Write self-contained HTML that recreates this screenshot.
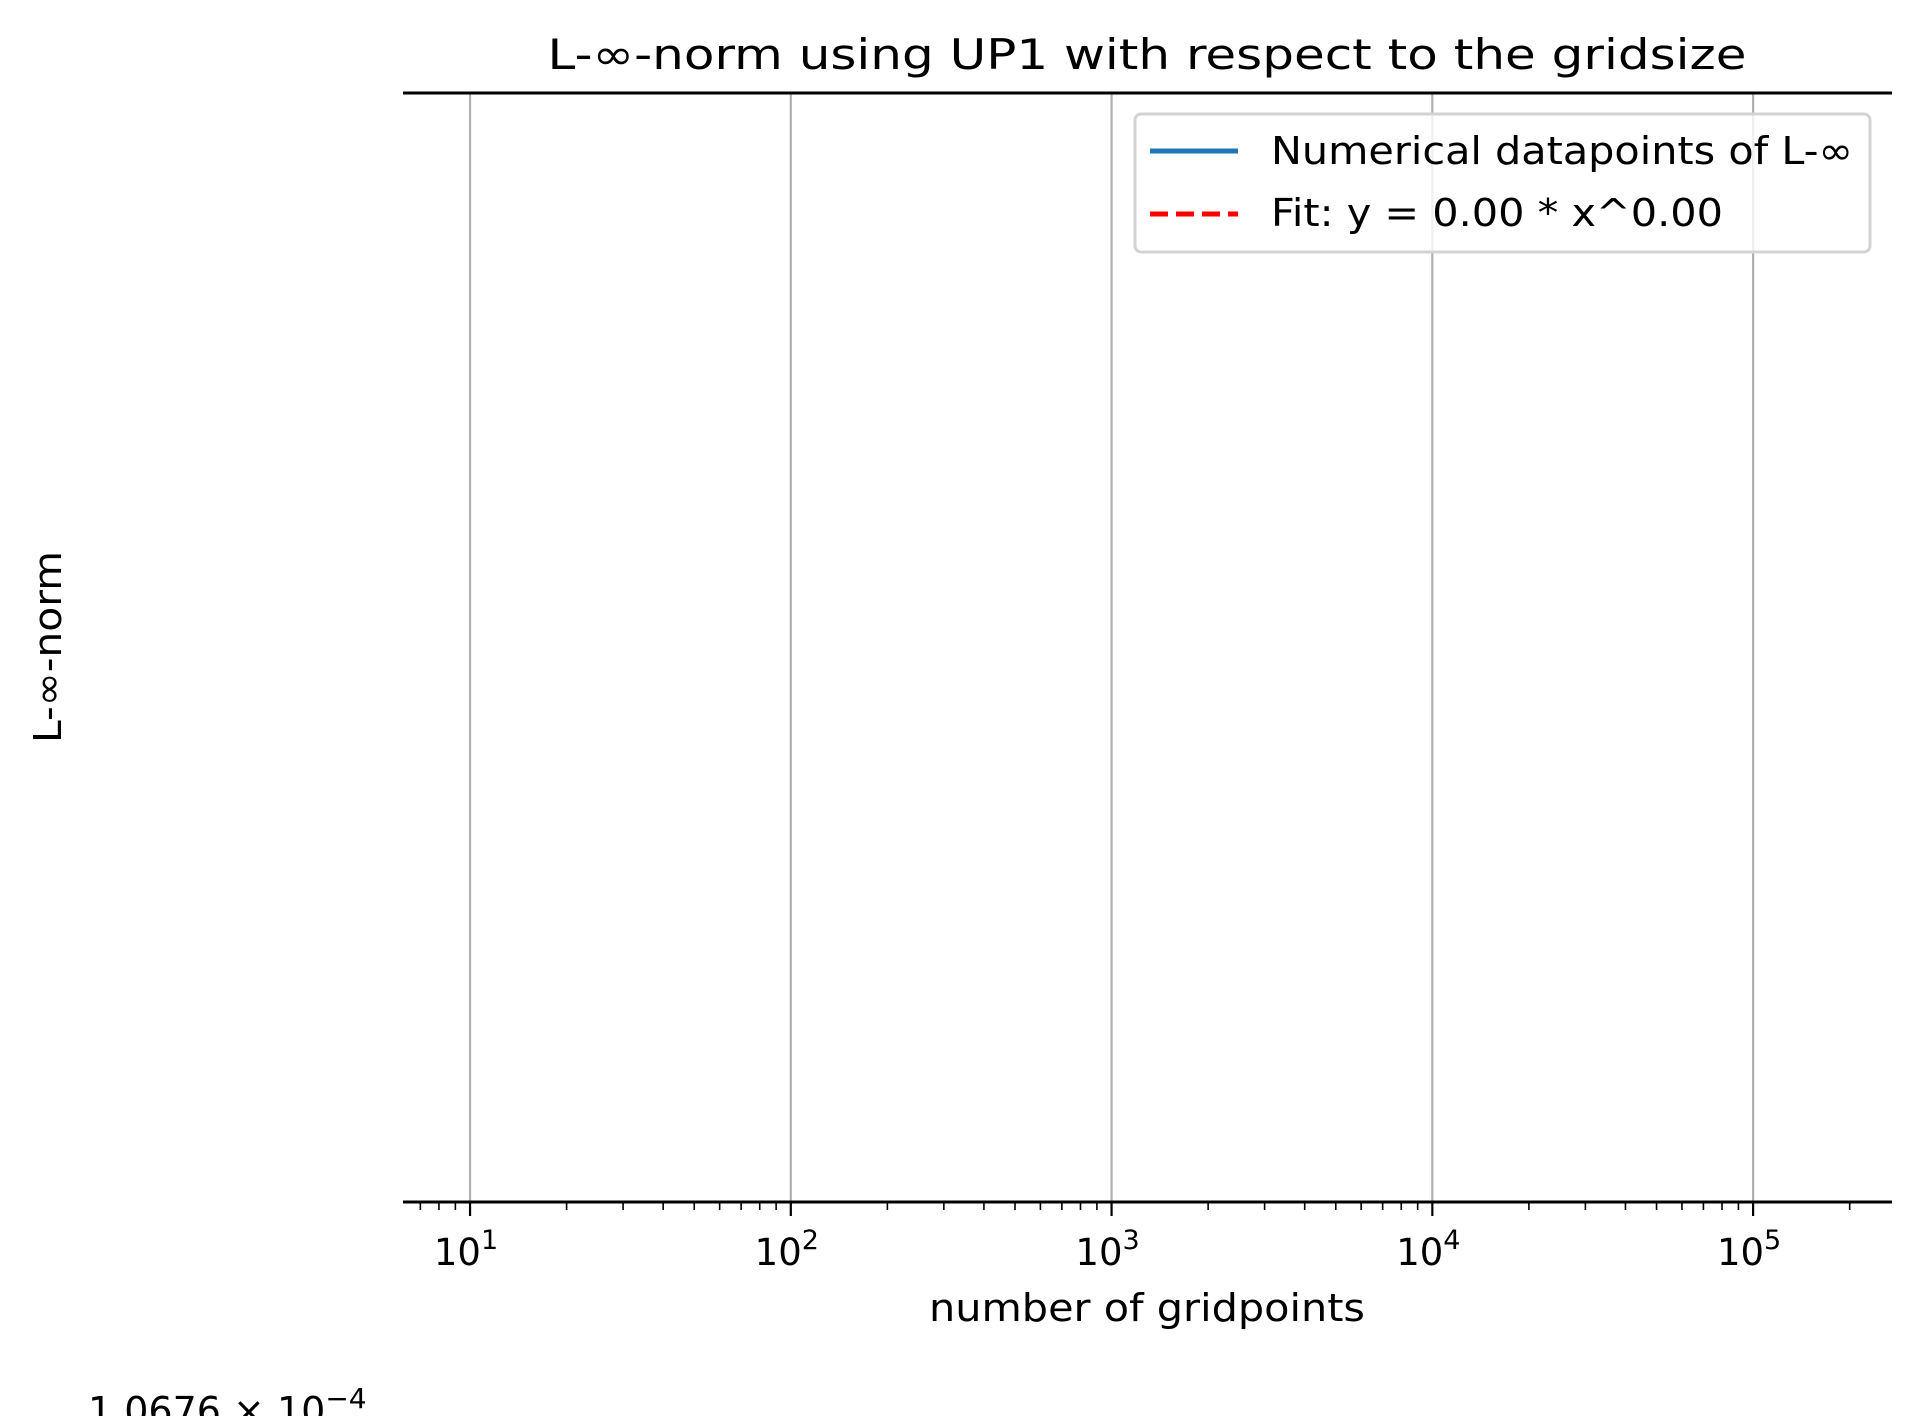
<!DOCTYPE html>
<html><head><meta charset="utf-8"><style>
html,body{margin:0;padding:0;background:#fff;}
svg{display:block;font-family:"DejaVu Sans","Liberation Sans",sans-serif;}
</style></head><body>
<svg id="chart" width="1920" height="1416" viewBox="0 0 1920 1416">
<rect width="1920" height="1416" fill="#fff"/>
<g id="grid"></g>
<g id="ticks"></g>
<line x1="403" y1="93" x2="1892" y2="93" stroke="#000" stroke-width="3"/>
<line x1="403" y1="1202" x2="1892" y2="1202" stroke="#000" stroke-width="3"/>
<text x="1147" y="69" font-size="42" text-anchor="middle" textLength="1199" lengthAdjust="spacingAndGlyphs">L-∞-norm using UP1 with respect to the gridsize</text>
<text x="1147" y="1321" font-size="38" text-anchor="middle" textLength="436" lengthAdjust="spacingAndGlyphs">number of gridpoints</text>
<text transform="translate(61,647) rotate(-90)" font-size="38" text-anchor="middle" textLength="192" lengthAdjust="spacingAndGlyphs">L-∞-norm</text>
<text x="88" y="1424" font-size="38">1.0676 × 10<tspan dy="-16" font-size="28">−4</tspan></text>
<g>
<rect x="1135" y="114" width="735" height="138" rx="6" fill="#fff" fill-opacity="0.8" stroke="#d3d3d3" stroke-width="3"/>
<line x1="1150" y1="151" x2="1238" y2="151" stroke="#1f77b4" stroke-width="5"/>
<text x="1271" y="164" font-size="38" textLength="582" lengthAdjust="spacingAndGlyphs">Numerical datapoints of L-∞</text>
<line x1="1150" y1="214" x2="1238" y2="214" stroke="#ff0000" stroke-width="5" stroke-dasharray="18,8"/>
<text x="1271" y="226" font-size="38" textLength="452" lengthAdjust="spacingAndGlyphs">Fit: y = 0.00 * x^0.00</text>
</g>
</svg>
<script>
const xDecades = [1, 2, 3, 4, 5];
const xTickLabels = ["1", "2", "3", "4", "5"];
const xDomain = [0.791, 5.433];
const NS = "http://www.w3.org/2000/svg";
const L = 403, R = 1892, T = 93, B = 1202;
function xScale(lg){ return L + (lg - xDomain[0]) / (xDomain[1] - xDomain[0]) * (R - L); }
const grid = document.getElementById('grid');
const ticks = document.getElementById('ticks');
function mk(tag, attrs, parent){ const e = document.createElementNS(NS, tag); for (const k in attrs) e.setAttribute(k, attrs[k]); parent.appendChild(e); return e; }
xDecades.forEach((d, i) => {
  const x = xScale(d);
  const g = mk('line', {x1:x, y1:T, x2:x, y2:B, stroke:'#b0b0b0', 'stroke-width':2.2}, grid);
  
  
  const t = mk('line', {x1:x, y1:B, x2:x, y2:B+14, stroke:'#000', 'stroke-width':2.2}, ticks);
  
  
  const lab = mk('text', {x:x-4, y:1265, 'font-size':37, 'text-anchor':'middle'}, ticks);
  
  
  lab.textContent = '10';
  const sup = mk('tspan', {dy:-16, 'font-size':27}, lab);
  sup.textContent = xTickLabels[i];
});
for (let d = 0; d <= 5; d++) {
  for (let m = 2; m <= 9; m++) {
    const lg = d + Math.log10(m);
    if (lg < xDomain[0] || lg > xDomain[1]) continue;
    const x = xScale(lg);
    const t = mk('line', {x1:x, y1:B, x2:x, y2:B+8, stroke:'#000', 'stroke-width':1.6}, ticks);
    
    
  }
}
</script>
</body></html>
